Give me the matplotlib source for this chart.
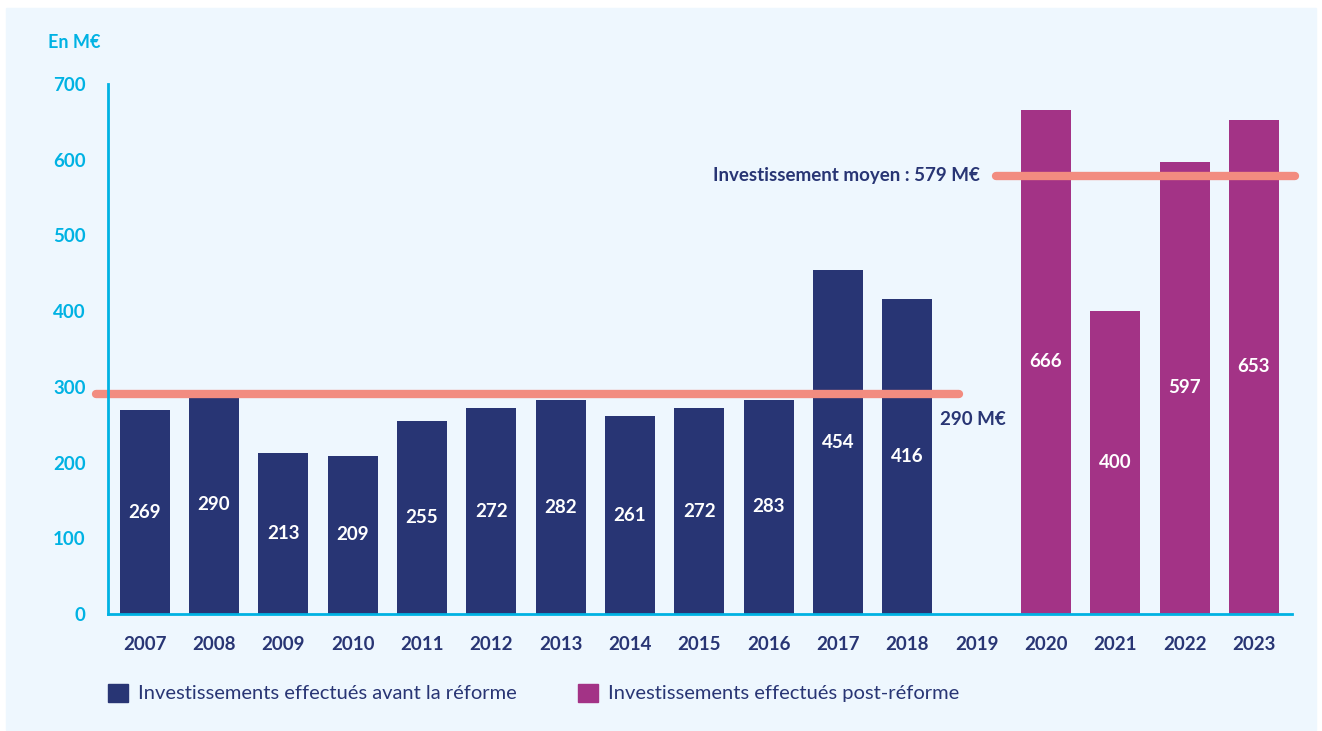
import numpy as np
import matplotlib.pyplot as plt
from matplotlib.patches import Rectangle

years = ["2007", "2008", "2009", "2010", "2011", "2012", "2013", "2014",
         "2015", "2016", "2017", "2018", "2019", "2020", "2021", "2022", "2023"]
avant = [269, 290, 213, 209, 255, 272, 282, 261, 272, 283, 454, 416,
         None, None, None, None, None]
apres = [None, None, None, None, None, None, None, None, None, None, None, None,
         None, 666, 400, 597, 653]
moyenne_avant = 290
moyenne_apres = 579
y_ticks = [0, 100, 200, 300, 400, 500, 600, 700]

NAVY = "#283574"
MAGENTA = "#A33386"
CYAN = "#00B2E3"
SALMON = "#F28C80"
BG = "#EEF7FE"

plt.rcParams['font.family'] = ['Lato', 'DejaVu Sans']

fig = plt.figure(figsize=(13.22, 7.31), dpi=100)
fig.patches.append(Rectangle((6 / 1322, 1 / 731), 1310 / 1322, 722 / 731,
                             transform=fig.transFigure, color=BG, zorder=-10))

ax = fig.add_axes([108 / 1322, 117 / 731, 1184 / 1322, 530 / 731])
ax.set_facecolor("none")

x = np.arange(len(years))
w = 0.72
for i, (a, p) in enumerate(zip(avant, apres)):
    if a is not None:
        ax.bar(x[i], a, w, color=NAVY, zorder=2)
        ax.text(x[i], a / 2, str(a), ha="center", va="center", color="white",
                fontsize=13.5, fontweight="bold", zorder=3)
    if p is not None:
        ax.bar(x[i], p, w, color=MAGENTA, zorder=2)
        ax.text(x[i], p / 2, str(p), ha="center", va="center", color="white",
                fontsize=13.5, fontweight="bold", zorder=3)

# lignes de moyenne
ax.plot([-0.70, 11.74], [moyenne_avant, moyenne_avant], color=SALMON, lw=6,
        solid_capstyle="round", clip_on=False, zorder=4)
ax.plot([12.28, 16.60], [moyenne_apres, moyenne_apres], color=SALMON, lw=6,
        solid_capstyle="round", clip_on=False, zorder=4)
ax.text(11.47, moyenne_avant - 33, f"{moyenne_avant} M€", ha="left", va="center",
        color=NAVY, fontsize=13.5, fontweight="bold")
ax.text(12.05, moyenne_apres, f"Investissement moyen : {moyenne_apres} M€",
        ha="right", va="center", color=NAVY, fontsize=13.5, fontweight="bold")

ax.set_xlim(-0.53, 16.55)
ax.set_ylim(0, 700)
ax.set_xticks(x)
ax.set_xticklabels(years)
ax.set_yticks(y_ticks)
ax.tick_params(axis="x", length=0, pad=16, labelsize=13.5, labelcolor=NAVY)
ax.tick_params(axis="y", length=0, pad=16, labelsize=13.5, labelcolor=CYAN)
for lbl in ax.get_xticklabels() + ax.get_yticklabels():
    lbl.set_fontweight("bold")

for s in ["top", "right"]:
    ax.spines[s].set_visible(False)
ax.spines["left"].set_color(CYAN)
ax.spines["bottom"].set_color(CYAN)
ax.spines["left"].set_linewidth(2)
ax.spines["bottom"].set_linewidth(2)
ax.spines["left"].set_zorder(5)
ax.spines["bottom"].set_zorder(5)

fig.text(48 / 1322, 1 - 42 / 731, "En M€", color=CYAN, fontsize=13,
         fontweight="bold", va="center", ha="left")

handles = [Rectangle((0, 0), 1, 1, color=NAVY), Rectangle((0, 0), 1, 1, color=MAGENTA)]
fig.legend(handles, ["Investissements effectués avant la réforme",
                     "Investissements effectués post-réforme"],
           loc="center left", bbox_to_anchor=(90 / 1322, 1 - 693 / 731), ncol=2,
           frameon=False, fontsize=14.5, labelcolor=NAVY, handlelength=1.0,
           handleheight=1.0, handletextpad=0.5, columnspacing=3.0)

fig.savefig("out.png", dpi=100)
